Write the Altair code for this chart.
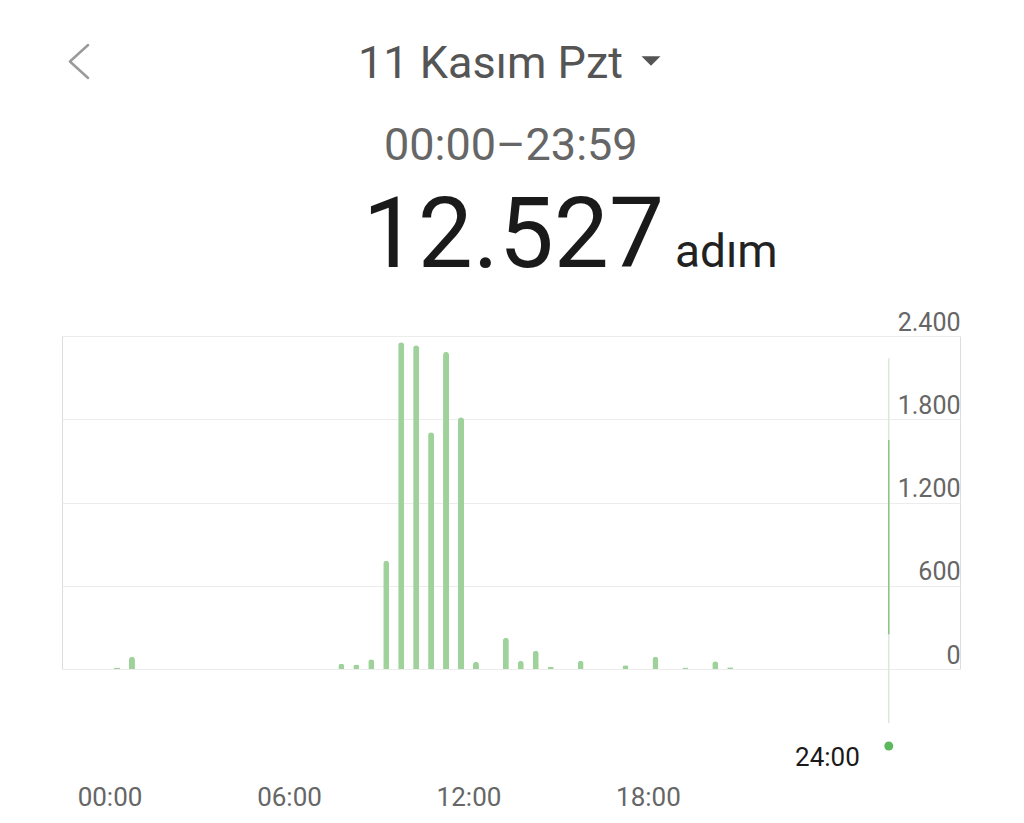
import altair as alt
import pandas as pd

# ---- data ----
slot_index = [0, 1, 15, 16, 17, 18, 19, 20, 21, 22, 23, 24, 26, 27, 28, 29, 31, 34, 36, 38, 40, 41]
step_values = [10, 88, 38, 32, 70, 780, 2355, 2333, 1707, 2285, 1815, 53, 225, 58, 132, 17, 60, 27, 89, 10, 55, 12]
hour_ticks = [0, 6, 12, 18]
y_ticks = [0, 600, 1200, 1800, 2400]
title_date = "11 Kasım Pzt"
time_range = "00:00–23:59"
total_steps = "12.527"
unit_text = "adım"
end_label = "24:00"
end_hour = 24
cursor_hour = 26.05
cursor_span = [-390, 2240]
cursor_active = [250, 1650]

FONT = "Roboto"
BAR_GREEN = "#9fd29a"

bars_df = pd.DataFrame({
    "hour": [s * 0.5 + 0.25 for s in slot_index],
    "steps": step_values,
})

xs = alt.Scale(domain=[-1.4215, 28.264], nice=False, zero=False)
ys = alt.Scale(domain=[0, 2400], nice=False)

x_axis = alt.Axis(
    values=hour_ticks,
    labelExpr="(datum.value < 10 ? '0' : '') + datum.value + ':00'",
    grid=False, domain=False, ticks=False, tickSize=0,
    labelPadding=136, labelBaseline="alphabetic",
    labelFont=FONT, labelFontSize=26, labelColor="#666666",
    title=None,
)
y_axis = alt.Axis(
    orient="right", values=y_ticks,
    labelExpr="replace(format(datum.value, ','), ',', '.')",
    grid=True, gridColor="#ececec", gridWidth=1,
    domain=False, ticks=False, tickSize=0,
    labelPadding=0, labelAlign="right", labelBaseline="alphabetic", labelOffset=-6,
    labelFont=FONT, labelFontSize=25, labelColor="#666666",
    title=None,
)

def X(field):
    return alt.X(field, scale=xs, axis=x_axis, title=None)

def Y(field):
    return alt.Y(field, scale=ys, axis=y_axis, title=None)

bars = alt.Chart(bars_df).mark_bar(
    orient="vertical", size=6, color=BAR_GREEN,
    cornerRadiusTopLeft=3, cornerRadiusTopRight=3,
).encode(x=X("hour:Q"), y=Y("steps:Q"))

cursor_df = pd.DataFrame({
    "hour": [cursor_hour, cursor_hour],
    "y0": [cursor_span[0], cursor_active[0]],
    "y1": [cursor_span[1], cursor_active[1]],
    "part": ["light", "active"],
})
cursor = alt.Chart(cursor_df).mark_rule(strokeWidth=1.5).encode(
    x=X("hour:Q"),
    y=Y("y0:Q"),
    y2="y1:Q",
    color=alt.Color("part:N", scale=alt.Scale(domain=["light", "active"], range=["#dde8dd", "#86c784"]), legend=None),
)

dot = alt.Chart(pd.DataFrame({"hour": [cursor_hour]})).mark_circle(
    size=80, color="#5cb85c", opacity=1
).encode(x=X("hour:Q"), y=alt.value(410))

end_text = alt.Chart(pd.DataFrame({"hour": [end_hour], "t": [end_label]})).mark_text(
    font=FONT, fontSize=26, color="#1a1a1a", align="center", baseline="alphabetic"
).encode(x=X("hour:Q"), y=alt.value(430), text="t:N")

def header_text(txt, x, y, size, color, align="center"):
    return alt.Chart(pd.DataFrame({"t": [txt]})).mark_text(
        font=FONT, fontSize=size, color=color, align=align, baseline="alphabetic"
    ).encode(x=alt.value(x), y=alt.value(y), text="t:N")

date_t = header_text(title_date, 428.5, -258, 45, "#555555")
range_t = header_text(time_range, 448.8, -176, 45, "#666666")
total_t = header_text(total_steps, 602, -69, 98, "#1a1a1a", align="right")
unit_t = header_text(unit_text, 613, -69, 46, "#222222", align="left")

marker_df = pd.DataFrame({"k": [0]})
triangle = alt.Chart(marker_df).mark_point(
    shape="M-1,-0.5L1,-0.5L0,0.5Z", filled=True, size=361, color="#555555", opacity=1
).encode(x=alt.value(589), y=alt.value(-275))
chevron = alt.Chart(marker_df).mark_point(
    shape="M0.55,-1L-0.55,0L0.55,1", filled=False, size=1089, stroke="#9a9a9a",
    strokeWidth=2.5, strokeCap="round", strokeJoin="round", opacity=1
).encode(x=alt.value(17), y=alt.value(-274.5))

chart = alt.layer(
    bars, cursor, dot, end_text, date_t, range_t, total_t, unit_t, triangle, chevron
).properties(
    width=898, height=333,
    autosize=alt.AutoSizeParams(type="none"),
    padding={"left": 54, "top": 328, "right": 56, "bottom": 146},
).configure_view(strokeWidth=0).configure(background="white")

chart.save("out.html", embed_options={"renderer": "svg", "actions": False})
